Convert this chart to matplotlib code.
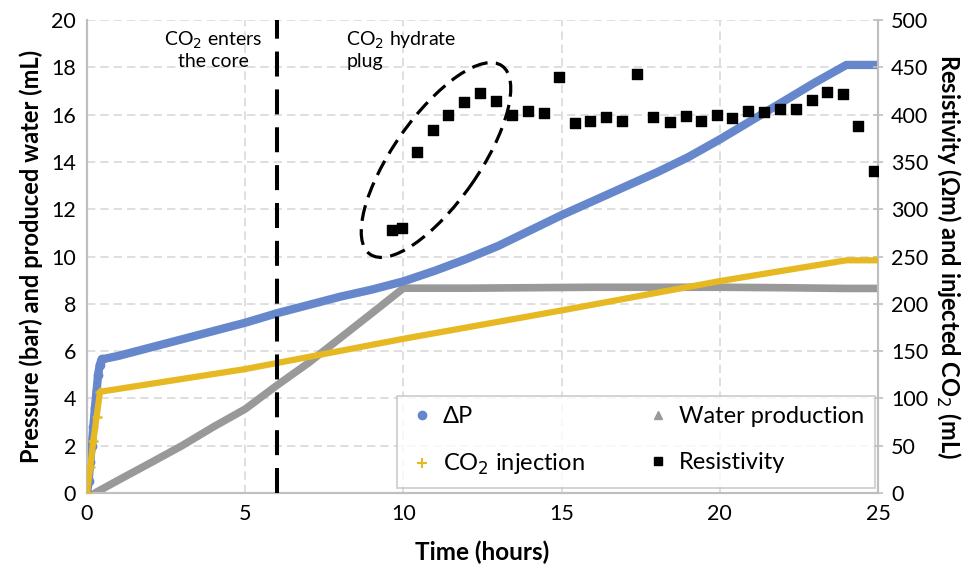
import numpy as np
import matplotlib
matplotlib.use('Agg')
import matplotlib.pyplot as plt
from matplotlib.patches import Ellipse
from matplotlib.lines import Line2D
import matplotlib.transforms as mtransforms

plt.rcParams['font.family'] = ['Lato', 'DejaVu Sans']

# Data
# Pressure drop (bar), left axis
dp_time = [0, 0.05, 0.1, 0.15, 0.2, 0.25, 0.3, 0.35, 0.4, 0.46, 1, 2, 3, 4, 5, 6, 7, 8, 9, 10,
           11, 12, 13, 14, 15, 16, 17, 18, 19, 20, 21, 22, 23, 24, 25]
dp_val = [0, 0.5, 1.3, 2.0, 2.8, 3.6, 4.3, 5.0, 5.4, 5.65, 5.8, 6.15, 6.5, 6.85, 7.2, 7.6, 7.95, 8.3, 8.6, 8.95,
          9.4, 9.9, 10.45, 11.1, 11.75, 12.35, 12.95, 13.55, 14.2, 14.95, 15.75, 16.55, 17.35, 18.1, 18.1]

# Produced water (mL), left axis
water_time = [0.25, 1, 2, 3, 4, 5, 6, 7, 8, 9, 10, 12, 14, 16, 18, 20, 22, 24, 25]
water_val = [0, 0.55, 1.27, 2.0, 2.8, 3.55, 4.55, 5.5, 6.55, 7.6, 8.66, 8.66, 8.68, 8.7, 8.7, 8.7, 8.68, 8.65, 8.65]

# Injected CO2 (mL), right axis
co2_time = [0, 0.1, 0.2, 0.3, 0.41, 5, 10, 15, 20, 24, 25]
co2_val = [0, 27, 55, 80, 107, 131, 163, 193, 224, 246, 246]

# Resistivity (Ohm m), right axis
res_time = [9.64, 9.96, 10.44, 10.95, 11.42, 11.92, 12.42, 12.92, 13.42, 13.94, 14.43, 14.92,
            15.42, 15.91, 16.40, 16.91, 17.39, 17.90, 18.43, 18.92, 19.40, 19.90, 20.40,
            20.90, 21.40, 21.90, 22.40, 22.90, 23.40, 23.89, 24.38, 24.88]
res_val = [278, 280, 360, 384, 400, 413, 423, 414, 400, 404, 402, 440,
           391, 393, 397, 393, 443, 397, 392, 399, 393, 400, 396,
           404, 403, 406, 406, 415, 424, 422, 388, 340]

co2_enter_time = 6.0

blue = '#6687cc'
gray = '#999999'
gold = '#e6b923'
gridc = '#d9d9d9'
axc = '#bfbfbf'

fig, ax = plt.subplots(figsize=(9.68, 5.75), dpi=100)
fig.subplots_adjust(left=0.0899, right=0.907, bottom=0.1426, top=0.9652)
ax2 = ax.twinx()

# left axis series
ax.plot(water_time, water_val, color=gray, lw=5.5, solid_capstyle='round', solid_joinstyle='round', zorder=2)
ax.plot(dp_time, dp_val, color=blue, lw=6, marker='o', ms=6, markevery=slice(0, 10),
        solid_capstyle='round', solid_joinstyle='round', zorder=3)

# right axis series
ax2.plot(co2_time, co2_val, color=gold, lw=4.5, marker='+', ms=7, mew=1.8, markevery=slice(0, 5),
         solid_capstyle='round', zorder=3)
ax2.scatter(res_time, res_val, marker='s', s=55, color='black', zorder=4)

ax.set_xlim(0, 25)
ax.set_ylim(0, 20)
ax2.set_ylim(0, 500)
ax.set_xticks(np.arange(0, 26, 5))
ax.set_yticks(np.arange(0, 21, 2))
ax2.set_yticks(np.arange(0, 501, 50))

ax.grid(True, color=gridc, lw=1.2, ls=(0, (5, 3)))
ax.set_axisbelow(True)

for a in (ax, ax2):
    a.spines['top'].set_visible(False)
    for s in ('left', 'bottom', 'right'):
        a.spines[s].set_color(axc)
        a.spines[s].set_linewidth(1.5)

ax.tick_params(axis='both', length=0, labelsize=15.5, pad=8)
ax2.tick_params(axis='y', length=7, direction='inout', color=axc, width=1.2, labelsize=15.5, pad=6)

ax.set_xlabel('Time (hours)', fontsize=17.5, fontweight='bold', labelpad=12)
ax.set_ylabel('Pressure (bar) and produced water (mL)', fontsize=17, fontweight='bold', labelpad=6)
ax2.set_ylabel('Resistivity (Ωm) and injected CO$_2$ (mL)', fontsize=17, fontweight='bold',
               rotation=270, labelpad=24)

# annotations
ax2.axvline(co2_enter_time, color='black', lw=2.9, ls=(0, (6.2, 3.2)), zorder=5)
ax.text(4.0, 19.6, 'CO$_2$ enters\nthe core', ha='center', va='top', fontsize=14, linespacing=1.15)
ax.text(8.2, 19.6, 'CO$_2$ hydrate\nplug', ha='left', va='top', fontsize=14, linespacing=1.15)

ell_tr = fig.dpi_scale_trans + mtransforms.ScaledTranslation(11.03, 352, ax2.transData)
ell = Ellipse((0, 0), 2.30, 0.86, angle=55, transform=ell_tr, fill=False, ec='black',
              lw=2.3, ls=(0, (5, 2.6)), zorder=5)
ax2.add_patch(ell)

# legend
handles = [
    Line2D([], [], ls='none', marker='o', ms=6, color=blue),
    Line2D([], [], ls='none', marker='+', ms=7, mew=1.5, color=gold),
    Line2D([], [], ls='none', marker='^', ms=6, color=gray),
    Line2D([], [], ls='none', marker='s', ms=6, color='black'),
]
labels = ['ΔP', 'CO$_2$ injection', 'Water production', 'Resistivity']
leg = ax2.legend(handles, labels, ncol=2, loc='lower left', bbox_to_anchor=(0.392, 0.011, 0.604, 0.196),
                 mode='expand', fontsize=17, frameon=True, fancybox=False, edgecolor=axc,
                 handletextpad=0.3, handlelength=1.2, borderaxespad=0, labelspacing=1.05,
                 borderpad=0.45)
leg.get_frame().set_linewidth(1.2)
leg.set_zorder(6)

fig.savefig('out.png', dpi=100)
